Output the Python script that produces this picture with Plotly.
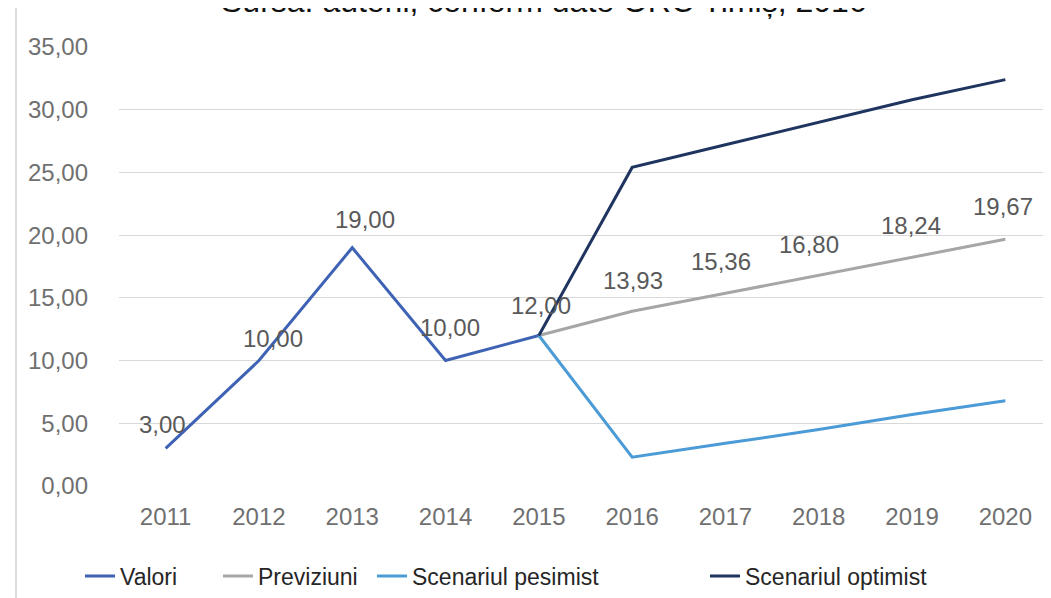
import plotly.graph_objects as go

years = ["2011", "2012", "2013", "2014", "2015", "2016", "2017", "2018", "2019", "2020"]
valori = [3.00, 10.00, 19.00, 10.00, 12.00, None, None, None, None, None]
previziuni = [None, None, None, None, 12.00, 13.93, 15.36, 16.80, 18.24, 19.67]
pesimist = [None, None, None, None, 12.00, 2.3, 3.4, 4.5, 5.7, 6.8]
optimist = [None, None, None, None, 12.00, 25.4, 27.2, 29.0, 30.8, 32.4]
y_ticks = [0, 5, 10, 15, 20, 25, 30, 35]

FONT = "Liberation Sans Narrow, Arial Narrow, Liberation Sans, sans-serif"
L, R, T, B = 111, 7, 39, 120
PW = 1051 - L - R

fig = go.Figure()
fig.add_trace(go.Scatter(x=years, y=valori, mode="lines", name="Valori",
                         line=dict(color="#3f63b4", width=3), legend="legend"))
fig.add_trace(go.Scatter(x=years, y=previziuni, mode="lines", name="Previziuni",
                         line=dict(color="#a6a6a6", width=3), legend="legend2"))
fig.add_trace(go.Scatter(x=years, y=pesimist, mode="lines", name="Scenariul pesimist",
                         line=dict(color="#4a9bd6", width=3), legend="legend3"))
fig.add_trace(go.Scatter(x=years, y=optimist, mode="lines", name="Scenariul optimist",
                         line=dict(color="#1f3560", width=3), legend="legend4"))

LBL = dict(family=FONT, size=24, color="#595959")
# data labels (offsets in pixels)
label_shifts = {0: (-3, 24), 1: (14, 22), 2: (13, 28), 3: (4, 33), 4: (2, 30)}
for i, (dx, dy) in label_shifts.items():
    fig.add_annotation(x=i, y=valori[i], text=f"{valori[i]:.2f}".replace(".", ","),
                       showarrow=False, xshift=dx, yshift=dy, font=LBL)
prev_shifts = {5: (1, 31), 6: (-4, 32), 7: (-10, 31), 8: (-1, 32), 9: (-2, 33)}
for i, (dx, dy) in prev_shifts.items():
    fig.add_annotation(x=i, y=previziuni[i], text=f"{previziuni[i]:.2f}".replace(".", ","),
                       showarrow=False, xshift=dx, yshift=dy, font=LBL)

# cut-off source title at top
fig.add_annotation(xref="paper", yref="paper", x=(536 - L) / PW, y=1, yanchor="middle", yshift=46,
                   text="Sursa: autorii, conform date ORC Timiș, 2016", showarrow=False,
                   font=dict(family="Liberation Sans, Arial, sans-serif", size=32, color="#111111"))

# page decorations: left border line
fig.add_shape(type="line", xref="paper", yref="paper", x0=(8 - L) / PW, x1=(8 - L) / PW,
              y0=-0.3, y1=1.1, line=dict(color="#dcdcdc", width=2))

def leg(px):
    return dict(orientation="h", x=(px - L) / PW, xanchor="left", y=-0.205, yanchor="middle",
                font=dict(family=FONT, size=23, color="#262626"), bgcolor="rgba(0,0,0,0)")

fig.update_layout(
    width=1051, height=598,
    margin=dict(l=L, r=R, t=T, b=B),
    paper_bgcolor="white", plot_bgcolor="white",
    separators=",.",
    font=dict(family=FONT, size=24, color="#707070"),
    showlegend=True,
    legend=leg(72), legend2=leg(210), legend3=leg(364), legend4=leg(697),
    xaxis=dict(type="category", range=[-0.5, 9.5], showgrid=False, zeroline=False,
               showline=False, ticks="", ticklabelstandoff=14,
               tickfont=dict(family=FONT, size=24, color="#707070")),
    yaxis=dict(range=[0, 35], tickvals=y_ticks, tickformat=".2f", showgrid=True,
               gridcolor="#d9d9d9", gridwidth=1, zeroline=False, showline=False, ticks="",
               ticklabelstandoff=30,
               tickfont=dict(family=FONT, size=24, color="#707070")),
)

fig.write_html("out.html")
